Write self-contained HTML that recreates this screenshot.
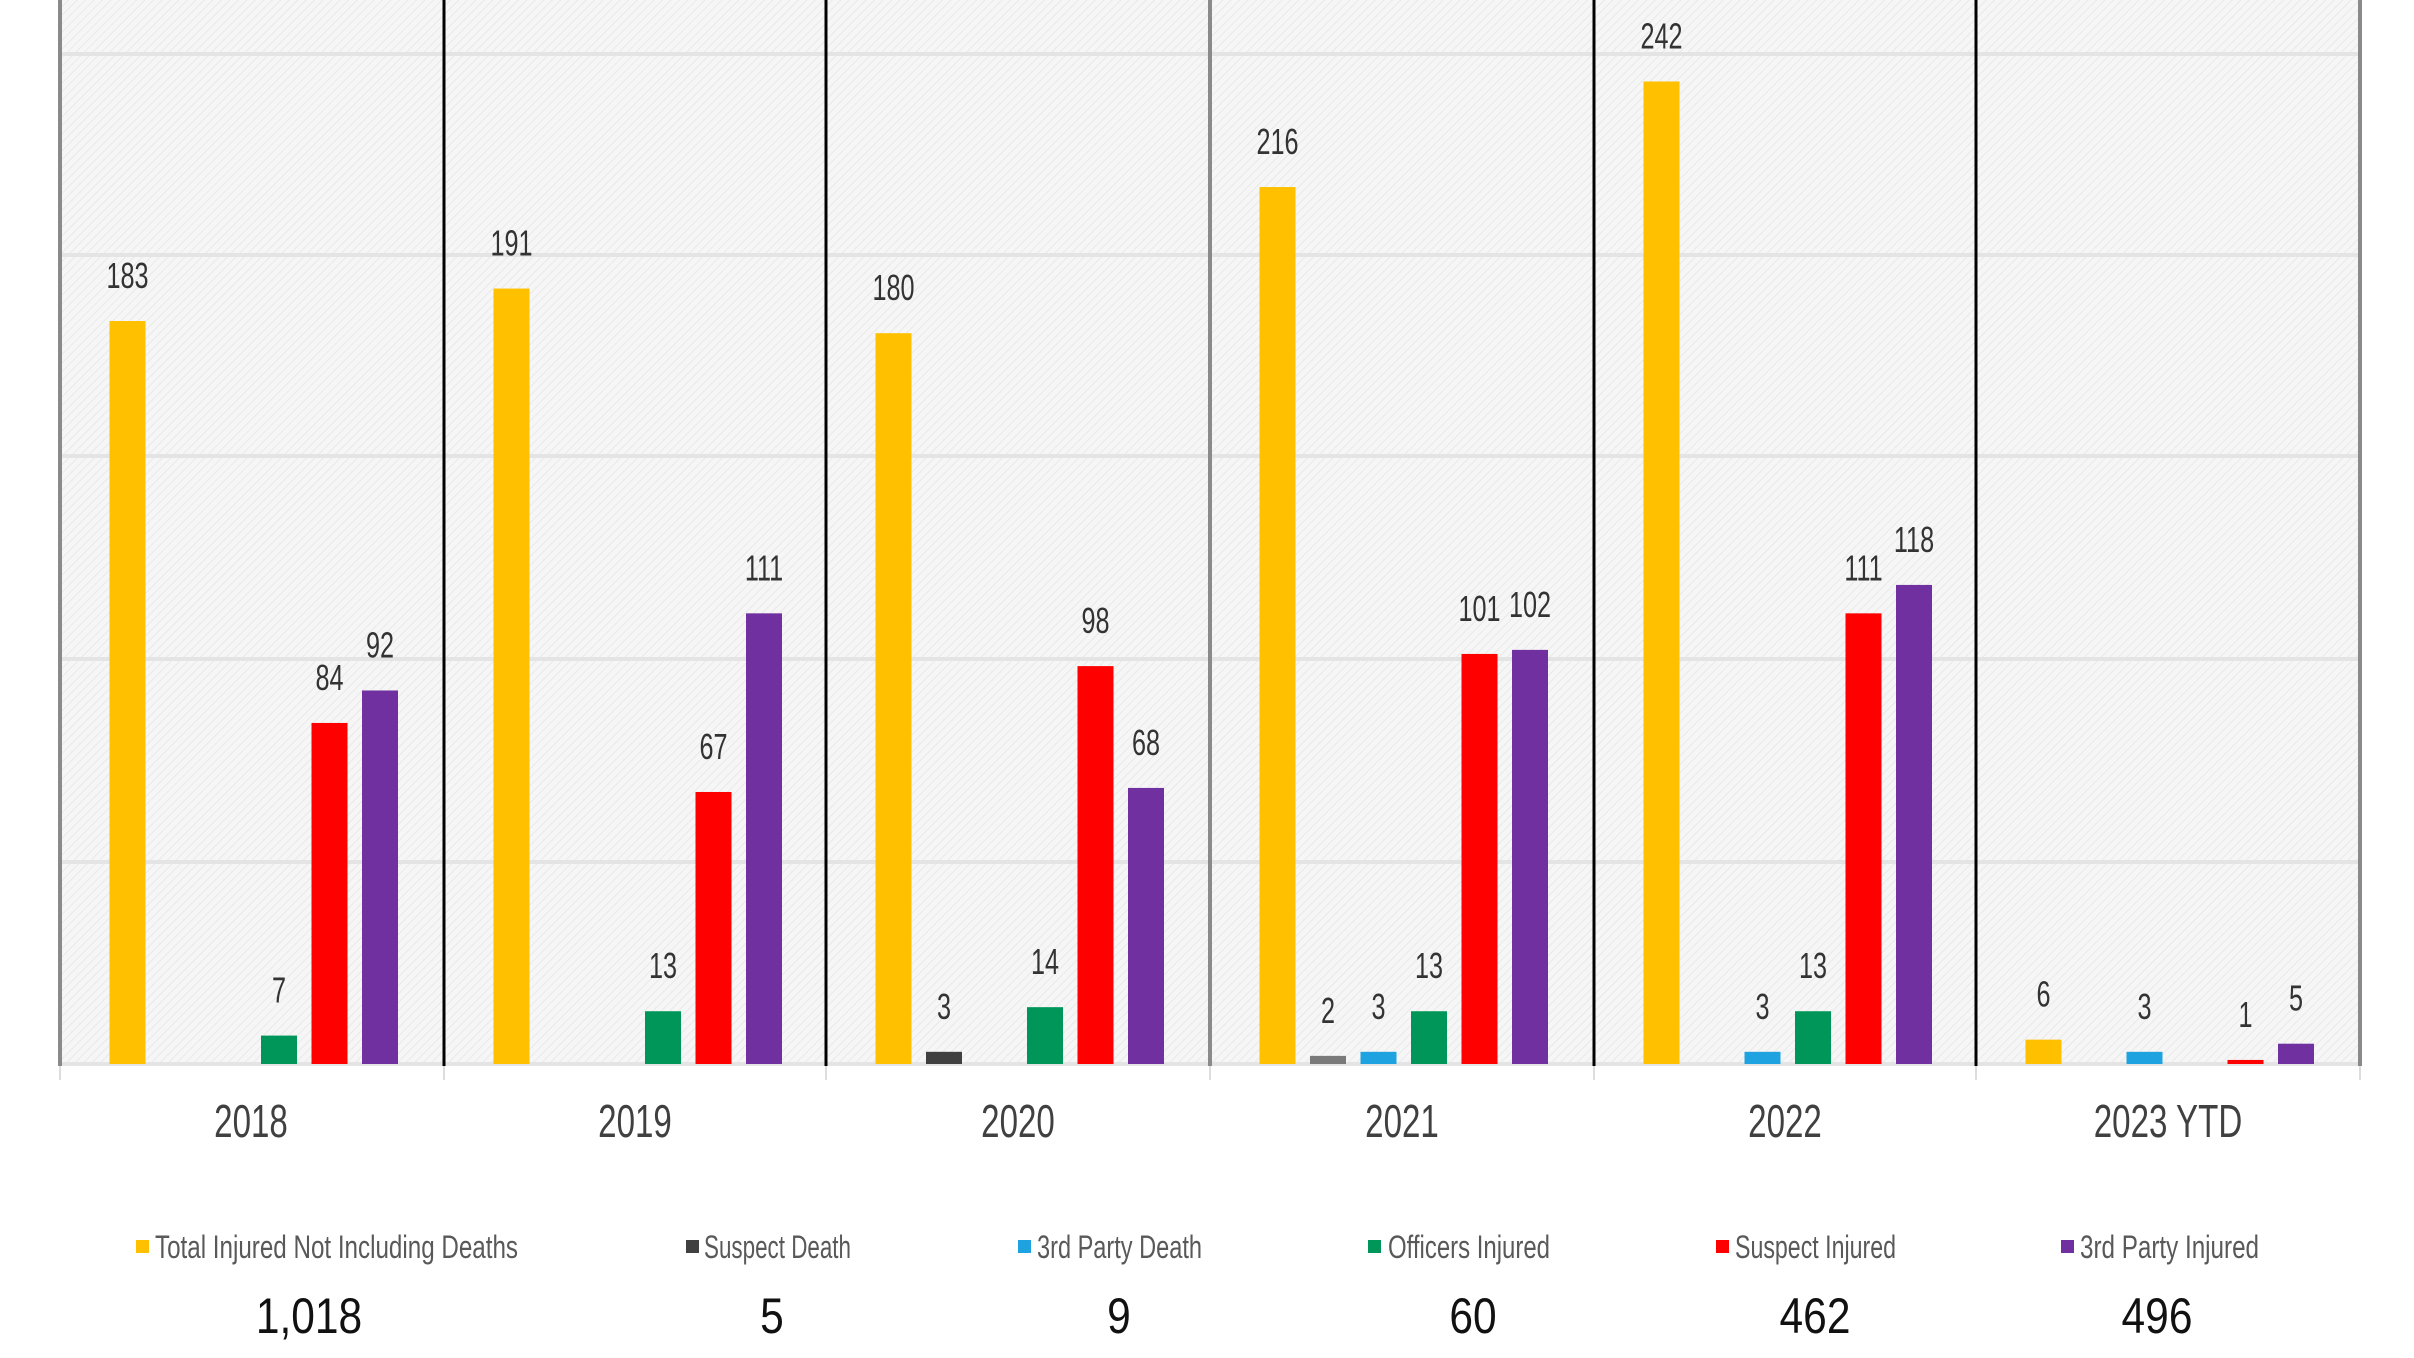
<!DOCTYPE html>
<html><head><meta charset="utf-8"><style>
html,body{margin:0;padding:0;background:#fff;}
svg{display:block;}
text{font-family:"Liberation Sans Narrow","Liberation Sans",sans-serif;}
</style></head><body>
<svg width="2414" height="1358" viewBox="0 0 2414 1358" xmlns="http://www.w3.org/2000/svg">
<defs>
<pattern id="h" width="6" height="6" patternUnits="userSpaceOnUse" patternTransform="rotate(45)">
<rect width="6" height="6" fill="#f6f6f6"/><line x1="0" y1="0" x2="0" y2="6" stroke="#e9e9e9" stroke-width="2"/>
</pattern>
</defs>
<rect x="60" y="0" width="2300" height="1064" fill="url(#h)"/>
<g stroke="#e4e4e4" stroke-width="4">
<line x1="60" y1="54" x2="2360" y2="54"/>
<line x1="60" y1="255" x2="2360" y2="255"/>
<line x1="60" y1="456" x2="2360" y2="456"/>
<line x1="60" y1="659" x2="2360" y2="659"/>
<line x1="60" y1="862" x2="2360" y2="862"/>
<line x1="60" y1="1064" x2="2360" y2="1064"/>
</g>
<g stroke="#ddd" stroke-width="2">
<line x1="60" y1="1064" x2="60" y2="1080"/><line x1="444" y1="1064" x2="444" y2="1080"/><line x1="826" y1="1064" x2="826" y2="1080"/><line x1="1210" y1="1064" x2="1210" y2="1080"/><line x1="1594" y1="1064" x2="1594" y2="1080"/><line x1="1976" y1="1064" x2="1976" y2="1080"/><line x1="2360" y1="1064" x2="2360" y2="1080"/>
</g>
<g stroke="#000" stroke-width="3">
<line x1="444" y1="0" x2="444" y2="1066"/><line x1="826" y1="0" x2="826" y2="1066"/><line x1="1594" y1="0" x2="1594" y2="1066"/><line x1="1976" y1="0" x2="1976" y2="1066"/>
</g>
<g stroke="#8a8a8a" stroke-width="4">
<line x1="60" y1="0" x2="60" y2="1066"/><line x1="1210" y1="0" x2="1210" y2="1066"/><line x1="2360" y1="0" x2="2360" y2="1066"/>
</g>
<g id="bars"></g>
<g id="labels" font-size="36" fill="#333" text-anchor="middle"></g>
<g font-size="46" fill="#404040" text-anchor="middle">
<text transform="translate(251,1137) scale(0.72,1)">2018</text>
<text transform="translate(635,1137) scale(0.72,1)">2019</text>
<text transform="translate(1018,1137) scale(0.72,1)">2020</text>
<text transform="translate(1402,1137) scale(0.72,1)">2021</text>
<text transform="translate(1785,1137) scale(0.72,1)">2022</text>
<text transform="translate(2168,1137) scale(0.72,1)">2023 YTD</text>
</g>
<g font-size="32" fill="#595959">
<rect x="136" y="1240" width="13" height="13" fill="#FFC000"/><text x="155" y="1258" textLength="363" lengthAdjust="spacingAndGlyphs">Total Injured Not Including Deaths</text>
<rect x="686" y="1240" width="13" height="13" fill="#404040"/><text x="704" y="1258" textLength="147" lengthAdjust="spacingAndGlyphs">Suspect Death</text>
<rect x="1018" y="1240" width="13" height="13" fill="#1FA2E0"/><text x="1037" y="1258" textLength="165" lengthAdjust="spacingAndGlyphs">3rd Party Death</text>
<rect x="1368" y="1240" width="13" height="13" fill="#00965A"/><text x="1388" y="1258" textLength="162" lengthAdjust="spacingAndGlyphs">Officers Injured</text>
<rect x="1716" y="1240" width="13" height="13" fill="#FF0000"/><text x="1735" y="1258" textLength="161" lengthAdjust="spacingAndGlyphs">Suspect Injured</text>
<rect x="2061" y="1240" width="13" height="13" fill="#7030A0"/><text x="2080" y="1258" textLength="179" lengthAdjust="spacingAndGlyphs">3rd Party Injured</text>
</g>
<g font-size="50" fill="#111" text-anchor="middle">
<text transform="translate(309,1333) scale(0.85,1)">1,018</text>
<text transform="translate(772,1333) scale(0.85,1)">5</text>
<text transform="translate(1119,1333) scale(0.85,1)">9</text>
<text transform="translate(1473,1333) scale(0.85,1)">60</text>
<text transform="translate(1815,1333) scale(0.85,1)">462</text>
<text transform="translate(2157,1333) scale(0.85,1)">496</text>
</g>
</svg>
<script>
(function(){
var ns="http://www.w3.org/2000/svg";
var groups=[60,444,826,1210,1594,1976];
var colors=["#FFC000","#7a7a7a","#1FA2E0","#00965A","#FF0000","#7030A0"];
var data=[[183,0,0,7,84,92],[191,0,0,13,67,111],[180,3,0,14,98,68],[216,2,3,13,101,102],[242,0,3,13,111,118],[6,0,3,0,1,5]];
var base=1064,k=4.06;
var bars=document.getElementById("bars"),labs=document.getElementById("labels");
data.forEach(function(row,g){
 row.forEach(function(v,i){
  if(!v)return;
  var x=groups[g]+49.5+i*50.5,h=v*k;
  if(h<4)h=4;
  var c=colors[i]; if(g==2&&i==1)c="#404040";
  var r=document.createElementNS(ns,"rect");
  r.setAttribute("x",x);r.setAttribute("y",base-h);r.setAttribute("width",36);r.setAttribute("height",h);r.setAttribute("fill",c);
  bars.appendChild(r);
  var t=document.createElementNS(ns,"text");
  t.setAttribute("transform","translate("+(x+18)+","+(base-h-33)+") scale(0.7,1)");
  t.textContent=v;labs.appendChild(t);
 });
});
})();
</script>
</body></html>
